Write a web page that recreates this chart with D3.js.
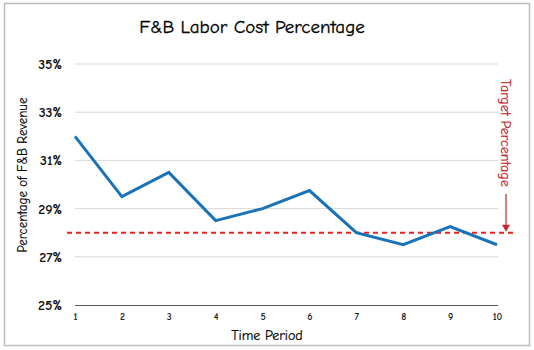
<!DOCTYPE html>
<html><head><meta charset="utf-8">
<script src="https://cdn.jsdelivr.net/npm/d3@7"></script>
<style>body{margin:0;background:#fff}svg{display:block}text{font-family:"Comic Sans MS","Comic Neue",Lato,"DejaVu Sans",sans-serif}</style>
</head><body>
<script>
const periods = [1,2,3,4,5,6,7,8,9,10];
const laborPct = [32, 29.5, 30.5, 28.5, 29, 29.75, 28, 27.5, 28.25, 27.5];
const yTicks = [25,27,29,31,33,35];
const target = 28;

const W=534,H=350;
const svg=d3.select("body").append("svg").attr("width",W).attr("height",H);
svg.append("rect").attr("x",4.5).attr("y",3.5).attr("width",525).attr("height",342)
  .attr("fill","#fff").attr("stroke","#bdbdbd").attr("stroke-width",1.5);

const x=d3.scaleLinear().domain([1,10]).range([75,497]);
const y=d3.scaleLinear().domain([25,35]).range([305,64]);

svg.append("g").selectAll("line").data(yTicks.filter(d=>d>25)).join("line")
  .attr("x1",75).attr("x2",498).attr("y1",d=>y(d)).attr("y2",d=>y(d))
  .attr("stroke","#d9d9d9").attr("stroke-width",1);
const ya=svg.append("g").attr("transform","translate(75,0)")
  .call(d3.axisLeft(y).tickValues(yTicks).tickFormat(d=>d+"%").tickSize(0).tickPadding(13));
ya.select(".domain").remove();
ya.selectAll("text").attr("font-size",14).attr("font-weight","bold").attr("fill","#111");
const xa=svg.append("g").attr("transform","translate(0,305)")
  .call(d3.axisBottom(x).tickValues(periods).tickSize(0).tickPadding(8));
xa.select(".domain").attr("d","M75,0.5H498").attr("stroke","#555").attr("stroke-width",1.2);
xa.selectAll("text").attr("font-size",10).attr("font-weight","bold").attr("fill","#222");

svg.append("line").attr("x1",67).attr("x2",513).attr("y1",y(target)).attr("y2",y(target))
  .attr("stroke","#e8231f").attr("stroke-width",2).attr("stroke-dasharray","5,4");

svg.append("path").datum(periods.map((p,i)=>[p,laborPct[i]]))
  .attr("d",d3.line().x(d=>x(d[0])).y(d=>y(d[1])))
  .attr("fill","none").attr("stroke","#1a73b8").attr("stroke-width",3).attr("stroke-linejoin","miter");

svg.append("text").attr("transform","translate(501,79) rotate(90)")
  .attr("font-size",14).attr("fill","#c0272d").attr("stroke","#c0272d").attr("stroke-width",0.2).text("Target Percentage");
svg.append("line").attr("x1",506).attr("x2",506).attr("y1",194).attr("y2",y(target)-7)
  .attr("stroke","#c0272d").attr("stroke-width",1.2);
svg.append("path").attr("d",`M502,${y(target)-8}L510,${y(target)-8}L506,${y(target)-1}Z`).attr("fill","#c0272d");

svg.append("text").attr("x",252).attr("y",33).attr("text-anchor","middle")
  .attr("font-size",19).attr("fill","#000").attr("stroke","#000").attr("stroke-width",0.3).text("F&B Labor Cost Percentage");
svg.append("text").attr("x",267).attr("y",340).attr("text-anchor","middle")
  .attr("font-size",14).attr("fill","#000").attr("stroke","#000").attr("stroke-width",0.2).text("Time Period");
svg.append("text").attr("transform","translate(27,175) rotate(-90)").attr("text-anchor","middle")
  .attr("font-size",13).attr("fill","#000").attr("stroke","#000").attr("stroke-width",0.15).text("Percentage of F&B Revenue");
</script>
</body></html>
